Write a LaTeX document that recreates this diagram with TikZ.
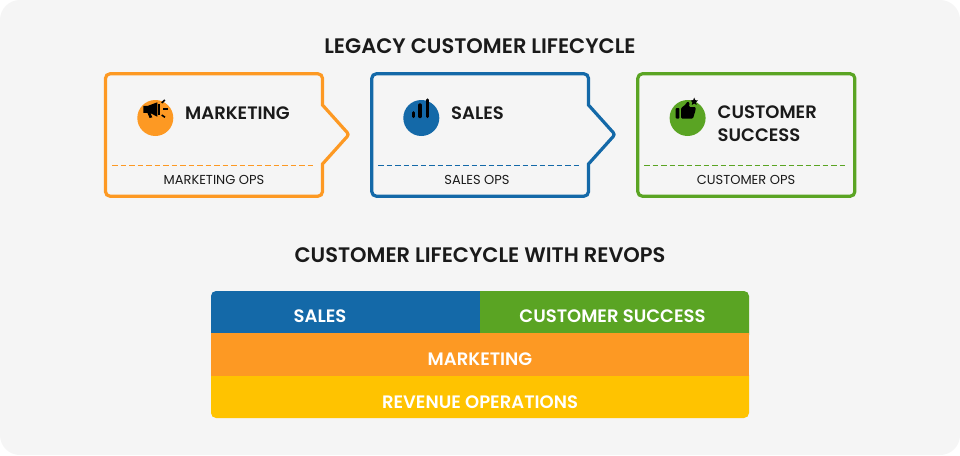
\documentclass[tikz,border=0pt]{standalone}
\usepackage{fontspec}
\setmainfont{Poppins}[BoldFont={Poppins SemiBold}]
\definecolor{bgc}{HTML}{F5F5F5}
\definecolor{ink}{HTML}{1A1A1A}
\definecolor{orangec}{HTML}{FD9923}
\definecolor{bluec}{HTML}{1469A8}
\definecolor{greenc}{HTML}{5AA423}
\definecolor{yellowc}{HTML}{FFC300}
\tikzset{
  frame/.style={line width=3.2pt,rounded corners=4.5pt,fill=bgc},
  sep/.style={line width=0.9pt,dash pattern=on 5.5pt off 3pt},
  titletext/.style={text=ink,font=\fontsize{21}{23}\selectfont\bfseries,inner sep=0pt},
  headtext/.style={text=ink,font=\fontsize{18}{23}\selectfont\bfseries,inner sep=0pt,anchor=west,align=left},
  opstext/.style={text=ink,font=\fontsize{13}{14}\selectfont,inner sep=0pt},
  bartext/.style={text=white,font=\fontsize{18}{20}\selectfont\bfseries,inner sep=0pt},
  badge/.style={circle,minimum size=36pt,inner sep=0pt},
  ray/.style={line width=1.6pt,black},
  barline/.style={line width=3.4pt,line cap=round,black}
}
\begin{document}
\begin{tikzpicture}[x=1pt,y=-1pt]
\useasboundingbox (0,0) rectangle (960,455);
\fill[white] (0,0) rectangle (960,455);
\fill[bgc,rounded corners=20pt] (0,0) rectangle (960,455);

\node[titletext] (t1) at (480,46) {LEGACY CUSTOMER LIFECYCLE};
\node[titletext] (t2) at (480,255) {CUSTOMER LIFECYCLE WITH REVOPS};

% frames
\draw[frame,draw=orangec] (105.5,73.8) -- (322.5,73.8) -- (322.5,90) [sharp corners] -- (322.5,105) [rounded corners=2.5pt] -- (349,134.5) [sharp corners] -- (322.5,164) -- (322.5,180) [rounded corners=4.5pt] -- (322.5,196.2) -- (105.5,196.2) -- cycle;
\draw[frame,draw=bluec] (371.8,73.8) -- (588.5,73.8) -- (588.5,90) [sharp corners] -- (588.5,105) [rounded corners=2.5pt] -- (615,134.5) [sharp corners] -- (588.5,164) -- (588.5,180) [rounded corners=4.5pt] -- (588.5,196.2) -- (371.8,196.2) -- cycle;
\draw[frame,draw=greenc] (637.8,73.8) -- (854.8,73.8) -- (854.8,196.2) -- (637.8,196.2) -- cycle;

% separators
\draw[sep,draw=orangec] (112,165.3) -- (314,165.3);
\draw[sep,draw=bluec] (378,165.3) -- (580,165.3);
\draw[sep,draw=greenc] (644,165.3) -- (846,165.3);

% badges
\node[badge,fill=orangec] (b1) at (155.3,118) {};
\node[badge,fill=bluec] (b2) at (421.3,118) {};
\node[badge,fill=greenc] (b3) at (687.6,118) {};

% megaphone
\fill[black] (143.3,105.8) -- (148,105.8) -- (157.3,102.3) -- (157.3,116.7) -- (150.5,113.2) -- (152.3,117.3) -- (149.6,118) -- (147.4,112.8) -- (143.3,112.8) -- cycle;
\draw[line width=1.2pt,black] (159,104) -- (159,115);
\draw[ray] (161.7,102.9) -- (164.8,100);
\draw[ray] (163.3,108.7) -- (167.7,108.7);
\draw[ray] (161.7,115) -- (165,117.3);

% bars
\draw[barline] (413.3,112.7) -- (413.3,116.5);
\draw[barline] (420,105) -- (420,116.5);
\draw[barline] (427.3,100) -- (427.3,116.5);

% thumb
\fill[black,rounded corners=0.8pt] (675.7,108) rectangle (679.3,118.5);
\fill[black,rounded corners=1pt] (681,108) -- (685,105) -- (687.5,101.5) -- (689.5,102.5) -- (689,107) -- (695.6,107) -- (695.6,110) -- (693,118.5) -- (681,118.5) -- cycle;
\fill[black] (694.2,97.6) -- (695.3,100.2) -- (698,100.4) -- (696,102.2) -- (696.6,104.9) -- (694.2,103.5) -- (691.8,104.9) -- (692.4,102.2) -- (690.4,100.4) -- (693.1,100.2) -- cycle;

% heads
\node[headtext] (h1) at (185,113) {MARKETING};
\node[headtext] (h2) at (451,113) {SALES};
\node[headtext] (h3) at (717.5,124) {CUSTOMER\\SUCCESS};

% ops
\node[opstext] (o1) at (214,179.5) {MARKETING OPS};
\node[opstext] (o2) at (477,179.5) {SALES OPS};
\node[opstext] (o3) at (746,179.5) {CUSTOMER OPS};

% stacked bars
\fill[yellowc,rounded corners=5pt] (211,370) rectangle (749,418);
\fill[bluec,rounded corners=5pt] (211,291) rectangle (490,340);
\fill[greenc,rounded corners=5pt] (480,291) rectangle (749,340);
\fill[greenc] (480,291) rectangle (495,340);
\fill[orangec] (211,333) rectangle (749,375.5);
\node[bartext] (s1) at (320,316.5) {SALES};
\node[bartext] (s2) at (612.5,316.5) {CUSTOMER SUCCESS};
\node[bartext] (s3) at (480,359) {MARKETING};
\node[bartext] (s4) at (480,402) {REVENUE OPERATIONS};
\end{tikzpicture}
\end{document}
